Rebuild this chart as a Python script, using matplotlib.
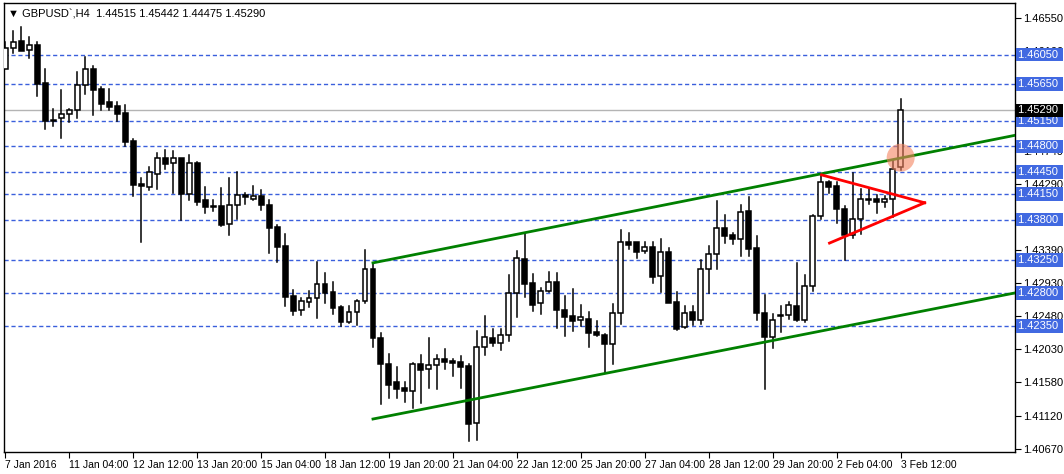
import matplotlib
matplotlib.use("Agg")
import matplotlib.pyplot as plt
from matplotlib.patches import Rectangle, Ellipse
from matplotlib.transforms import blended_transform_factory
import numpy as np

plt.rcParams['font.family'] = ['Liberation Sans', 'DejaVu Sans']

# OHLC in units of 1e-4 (price*10000)
opens = [14585,14614,14624,14611,14618,14566,14516,14519,14524,14530,14564,14585,14558,14540,14535,14525,14487,14429,14425,14442,
         14464,14457,14464,14415,14457,14407,14399,14399,14374,14400,14414,14408,14412,14400,14370,14344,14276,14257,14268,14273,
         14292,14281,14261,14240,14254,14269,14313,14218,14183,14158,14150,14146,14183,14176,14182,14190,14187,14186,14180,14103,
         14206,14218,14212,14223,14280,14326,14293,14266,14283,14295,14257,14249,14243,14244,14227,14223,14210,14253,14350,14350,
         14337,14343,14303,14336,14268,14234,14254,14243,14313,14333,14369,14359,14354,14392,14341,14253,14220,14249,14250,14262,
         14243,14290,14385,14431,14426,14395,14359,14381,14407,14408,14404,14408,14452]
highs = [14622,14637,14643,14629,14622,14585,14531,14557,14531,14581,14602,14590,14561,14558,14540,14536,14490,14437,14452,14471,
         14475,14474,14464,14468,14459,14425,14407,14423,14437,14445,14416,14426,14420,14407,14373,14360,14284,14273,14283,14322,
         14307,14295,14262,14262,14270,14339,14321,14225,14197,14179,14158,14184,14195,14218,14195,14203,14190,14194,14183,14228,
         14248,14231,14231,14304,14337,14362,14306,14287,14309,14307,14276,14285,14263,14254,14242,14224,14265,14366,14362,14350,
         14350,14350,14354,14341,14281,14262,14262,14325,14344,14405,14386,14362,14400,14411,14358,14277,14251,14262,14268,14321,
         14304,14386,14441,14433,14431,14399,14444,14422,14422,14414,14412,14461,14544]
lows = [14585,14607,14610,14600,14549,14504,14508,14491,14513,14519,14551,14523,14530,14530,14515,14480,14412,14350,14420,14422,
        14449,14416,14380,14407,14400,14389,14392,14371,14359,14381,14401,14407,14393,14334,14322,14262,14250,14250,14261,14246,
        14266,14251,14235,14239,14236,14266,14206,14128,14137,14137,14131,14123,14130,14150,14149,14176,14167,14150,14078,14079,
        14195,14208,14202,14214,14247,14274,14255,14251,14281,14232,14221,14228,14235,14206,14221,14171,14183,14238,14340,14328,
        14334,14293,14281,14266,14229,14232,14236,14238,14280,14313,14348,14347,14330,14330,14243,14149,14205,14227,14244,14242,
        14240,14283,14381,14416,14375,14325,14355,14360,14401,14389,14397,14384,14448]
closes = [14614,14622,14610,14618,14565,14515,14515,14524,14530,14564,14585,14557,14538,14534,14524,14486,14427,14426,14445,14464,
          14456,14464,14415,14457,14404,14397,14397,14373,14400,14414,14411,14412,14400,14369,14343,14274,14255,14269,14273,14292,
          14280,14259,14240,14254,14269,14313,14218,14183,14154,14149,14146,14183,14175,14182,14190,14186,14184,14179,14101,14206,
          14220,14212,14223,14280,14328,14292,14263,14283,14295,14257,14247,14242,14247,14225,14223,14210,14253,14350,14345,14336,
          14343,14302,14336,14266,14231,14253,14243,14313,14333,14369,14358,14354,14390,14340,14253,14220,14243,14250,14263,14243,
          14290,14385,14431,14425,14395,14359,14381,14408,14408,14404,14408,14449,14529]

time_labels = ["7 Jan 2016","11 Jan 04:00","12 Jan 12:00","13 Jan 20:00","15 Jan 04:00","18 Jan 12:00","19 Jan 20:00",
               "21 Jan 04:00","22 Jan 12:00","25 Jan 20:00","27 Jan 04:00","28 Jan 12:00","29 Jan 20:00","2 Feb 04:00","3 Feb 12:00"]
label_step = 8

price_ticks = [1.46550,1.46100,1.45650,1.45200,1.44740,1.44290,1.43840,1.43390,1.42930,1.42480,1.42030,1.41580,1.41120,1.40670]
level_lines = [1.46050,1.45650,1.45150,1.44800,1.44450,1.44150,1.43800,1.43250,1.42800,1.42350]
bid = 1.45290

upper_channel = [(46, 1.4321), (126.3, 1.4495)]
lower_channel = [(46, 1.4108), (126.3, 1.4280)]
tri_a = [(102.1, 1.4441), (115, 1.4403)]
tri_b = [(103.1, 1.4348), (115, 1.4403)]
circle_pt = (112.0, 1.44645)

fig = plt.figure(figsize=(10.64, 4.74), dpi=100)
ax = fig.add_axes([4/1064, 22/474, 1011/1064, 449/474])
ax.set_xlim(-0.15, 126.3)
ax.set_ylim(1.40630, 1.46755)

for lv in level_lines:
    ax.axhline(lv, color="#3a5fdc", lw=1, ls=(0, (3, 2)), zorder=1)
ax.axhline(bid, color="#b4b4b4", lw=1, zorder=1)

w = 0.62
for i in range(len(opens)):
    o, h, l, c = opens[i]/1e4, highs[i]/1e4, lows[i]/1e4, closes[i]/1e4
    ax.plot([i, i], [l, min(o, c)], color="black", lw=1.1, zorder=3)
    ax.plot([i, i], [max(o, c), h], color="black", lw=1.1, zorder=3)
    fc = "white" if c >= o else "black"
    hgt = abs(c - o)
    if hgt < 0.00003:
        ax.plot([i - w/2, i + w/2], [o, o], color="black", lw=1.2, zorder=4)
    else:
        ax.add_patch(Rectangle((i - w/2, min(o, c)), w, hgt, facecolor=fc, edgecolor="black", lw=1.1, zorder=4))

for seg, col in [(upper_channel, "#008000"), (lower_channel, "#008000"), (tri_a, "#ff0000"), (tri_b, "#ff0000")]:
    ax.plot([seg[0][0], seg[1][0]], [seg[0][1], seg[1][1]], color=col, lw=2, zorder=5)

ax.add_patch(Ellipse(circle_pt, 3.5, 0.0038, facecolor="#f4845f", alpha=0.6, edgecolor="none", zorder=6))

ax.set_xticks(np.arange(0, len(opens), label_step))
ax.set_xticklabels(time_labels, ha="left", fontsize=7.5)
ax.tick_params(axis="x", length=4, pad=2)
ax.yaxis.tick_right()
ax.set_yticks(price_ticks)
ax.set_yticklabels([f"{p:.5f}" for p in price_ticks], fontsize=8)
ax.tick_params(axis="y", length=4, pad=2)
for s in ax.spines.values():
    s.set_color("black"); s.set_linewidth(1)

tr = blended_transform_factory(ax.transAxes, ax.transData)
for lv in level_lines:
    ax.text(1.003, lv, f"{lv:.5f} ", transform=tr, fontsize=8, color="white", va="center", ha="left",
            bbox=dict(boxstyle="square,pad=0.15", fc="#4169e1", ec="none"), zorder=10, clip_on=False)
ax.text(1.003, bid, f"{bid:.5f} ", transform=tr, fontsize=8, color="white", va="center", ha="left",
        bbox=dict(boxstyle="square,pad=0.15", fc="black", ec="none"), zorder=11, clip_on=False)

ax.text(0.004, 0.985, "▼ GBPUSD`,H4  1.44515 1.45442 1.44475 1.45290", transform=ax.transAxes,
        fontsize=8, va="top", ha="left", color="black", family=['Liberation Sans', 'DejaVu Sans'])

fig.savefig("out.png", dpi=100)
